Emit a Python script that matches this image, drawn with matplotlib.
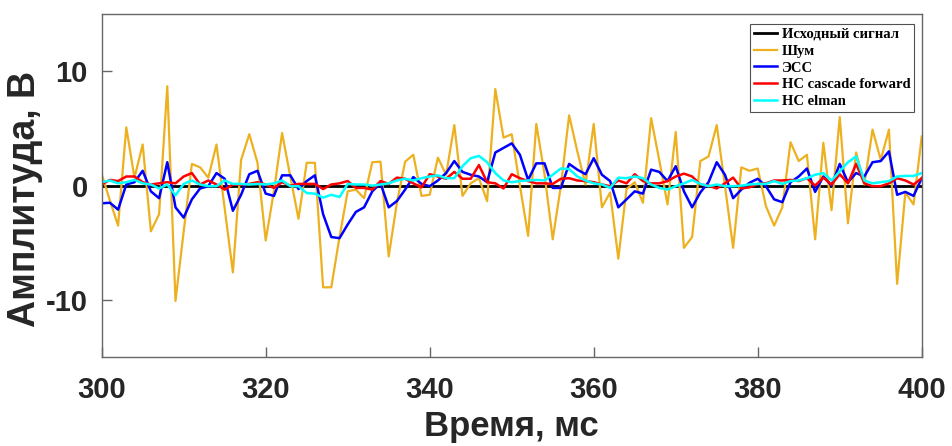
import numpy as np
import matplotlib
matplotlib.use("Agg")
import matplotlib.pyplot as plt

plt.rcParams["axes.unicode_minus"] = False

# time axis, ms (1 ms step)
time_ms = np.arange(300, 401)

# original signal is zero over this window
source = np.zeros(len(time_ms))

noise = [
    1.0, -1.3, -3.5, 5.1, 0.7, 3.6, -4.0, -2.5, 8.7, -10.1,
    -4.0, 1.9, 1.6, 0.7, 3.6, -2.0, -7.6, 2.25, 4.5, 2.0,
    -4.8, -0.5, 4.6, 0.8, -2.9, 2.0, 2.0, -8.9, -8.9, -4.5,
    -0.5, -0.35, -1.1, 2.05, 2.1, -6.2, -1.5, 2.1, 2.7, -0.9,
    -0.8, 2.45, 0.95, 5.3, -0.9, 0.2, 0.65, -1.35, 8.45, 4.2,
    4.5, 0.0, -4.4, 5.4, 1.0, -4.7, 0.0, 6.15, 3.0, 0.1,
    5.4, -1.9, -0.6, -6.4, -0.3, 0.3, -1.5, 5.9, 2.2, -1.65,
    4.7, -5.45, -4.5, 2.15, 2.55, 5.3, 0.0, -5.45, 1.6, 1.3,
    1.5, -1.8, -3.5, -1.9, 3.8, 2.15, 2.7, -4.7, 3.75, -2.15,
    6.0, -3.3, 2.9, 0.1, 4.9, 2.25, 4.9, -8.6, -0.6, -1.65,
    4.3,
]

ess = [
    -1.55, -1.5, -2.1, 0.1, 0.3, 1.3, -0.5, -1.1, 2.05, -1.9,
    -2.8, -1.2, -0.25, -0.05, 1.1, 0.6, -2.2, -0.8, 1.0, 1.3,
    -0.7, -0.9, 0.9, 0.9, -0.3, 0.4, 0.9, -2.5, -4.5, -4.6,
    -3.4, -2.3, -1.9, -0.5, 0.2, -1.9, -1.35, -0.35, 0.75, 0.15,
    -0.05, 0.45, 1.1, 2.15, 1.2, 0.95, 0.8, 0.3, 2.9, 3.3,
    3.7, 2.7, 0.5, 1.95, 1.95, -0.2, -0.2, 1.9, 1.4, 1.0,
    2.4, 0.95, 0.4, -1.9, -1.2, -0.5, -0.7, 1.4, 1.2, 0.4,
    1.7, -0.5, -1.9, -0.6, 0.3, 2.05, 0.95, -1.1, -0.35, 0.25,
    0.6, -0.05, -1.2, -1.45, 0.3, 0.8, 1.5, -0.55, 0.8, 0.0,
    1.9, 0.3, 1.1, 0.8, 2.05, 2.15, 3.0, -0.8, -0.55, -0.9,
    0.65,
]

cascade = [
    0.1, 0.5, 0.4, 0.8, 0.8, 0.3, 0.1, 0.2, 0.3, 0.2,
    0.8, 1.1, 0.1, 0.45, 0.1, -0.35, 0.1, 0.1, 0.15, 0.3,
    0.1, -0.2, 0.3, 0.0, 0.15, 0.15, 0.15, -0.3, 0.1, 0.2,
    0.4, -0.2, -0.2, -0.35, 0.4, 0.15, 0.7, 0.6, 0.2, -0.15,
    1.0, 0.8, 0.6, 1.2, 0.6, 0.6, 1.8, 0.3, 0.2, -0.25,
    1.0, 0.65, 0.4, 0.2, 0.2, 0.15, 0.6, 0.65, 0.45, 0.4,
    0.3, 0.1, -0.05, 0.45, 0.2, 1.0, 0.4, 0.2, 0.2, 0.4,
    0.8, 1.05, 0.8, 0.1, 0.0, -0.25, 0.2, 0.7, -0.25, -0.15,
    0.15, 0.2, 0.45, 0.45, 0.5, 0.4, 0.65, 0.0, 0.7, 0.1,
    1.0, 0.2, 1.9, 0.2, -0.05, -0.05, 0.2, 0.65, 0.45, 0.1,
    0.65,
]

elman = [
    0.3, 0.45, 0.2, 0.3, 0.5, 0.2, 0.1, -0.25, 0.1, -0.85,
    0.15, 0.45, 0.1, -0.05, -0.05, 0.45, 0.15, 0.15, 0.1, 0.15,
    0.1, 0.2, 0.45, -0.05, -0.05, -0.65, -0.7, -1.05, -0.8, -1.0,
    0.15, 0.1, 0.1, 0.0, 0.1, 0.2, 0.45, 0.6, 0.45, 0.65,
    0.8, 0.9, 0.65, 0.65, 1.7, 2.4, 2.6, 2.05, 1.1, 0.45,
    0.3, 0.4, 0.45, 0.5, 0.45, 0.95, 1.5, 1.45, 0.8, 0.45,
    0.2, 0.1, -0.2, 0.7, 0.65, 0.8, 0.65, 0.1, -0.2, -0.35,
    -0.05, 0.2, 0.5, 0.15, -0.05, 0.1, -0.05, -0.05, 0.0, 0.1,
    0.15, 0.15, 0.4, 0.15, 0.4, 0.45, 0.65, 0.95, 1.1, 0.45,
    1.25, 2.05, 2.55, 0.45, 0.2, 0.3, 0.4, 0.8, 0.85, 0.85,
    1.1,
]

labels = ["Исходный сигнал", "Шум", "ЭСС", "НС cascade forward", "НС elman"]
x_ticks = [300, 320, 340, 360, 380, 400]
y_ticks = [-10, 0, 10]

axis_gray = (0.15, 0.15, 0.15)

fig = plt.figure(figsize=(9.53, 4.46), dpi=100)
ax = fig.add_axes([0.1067, 0.1996, 0.8605, 0.7684])

ax.plot(time_ms, source, color="black", linewidth=2.0, label=labels[0])
ax.plot(time_ms, noise, color="#EDB120", linewidth=1.6, label=labels[1])
ax.plot(time_ms, ess, color="blue", linewidth=1.8, label=labels[2])
ax.plot(time_ms, cascade, color="red", linewidth=1.8, label=labels[3])
ax.plot(time_ms, elman, color="cyan", linewidth=1.8, label=labels[4])

ax.set_xlim(300, 400)
ax.set_ylim(-15, 15)
ax.set_xticks(x_ticks)
ax.set_yticks(y_ticks)

for side in ax.spines.values():
    side.set_color((0.4, 0.4, 0.4))
    side.set_linewidth(1.0)

ax.tick_params(direction="in", length=7, width=1.0, color=(0.4, 0.4, 0.4),
               labelcolor=axis_gray, labelsize=21)
ax.tick_params(axis="x", pad=14)
ax.tick_params(axis="y", pad=10)
for lab in ax.get_xticklabels() + ax.get_yticklabels():
    lab.set_fontfamily("Liberation Sans")
    lab.set_fontweight("bold")

ax.set_xlabel("Время, мс", fontsize=25, fontweight="bold",
              fontfamily="Liberation Sans", color=axis_gray, labelpad=4)
ax.set_ylabel("Амплитуда, В", fontsize=27, fontweight="bold",
              fontfamily="Liberation Sans", color=axis_gray)
ax.yaxis.set_label_coords(-0.071, 0.46)

leg = ax.legend(loc="upper right", bbox_to_anchor=(0.9906, 0.9717),
                prop={"family": "Liberation Serif", "weight": "bold", "size": 10.5},
                frameon=True, fancybox=False, handlelength=1.6,
                handletextpad=0.3, labelspacing=0.25, borderpad=0.25,
                borderaxespad=0.0)
leg.get_frame().set_edgecolor((0.15, 0.15, 0.15))
leg.get_frame().set_linewidth(0.8)

fig.savefig("out.png", dpi=100)
